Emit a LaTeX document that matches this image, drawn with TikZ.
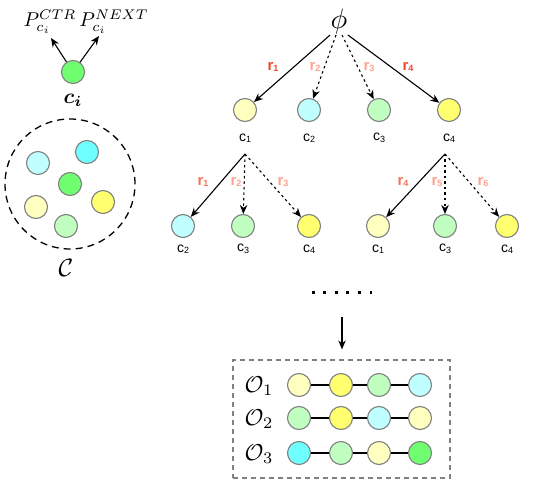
\documentclass[tikz,border=0pt]{standalone}
\usepackage{amsmath,bm}
\usepackage{fontspec}
\newfontfamily\lsans{Liberation Sans}
\usetikzlibrary{arrows.meta}
\definecolor{ly}{HTML}{FFFFC0}
\definecolor{yy}{HTML}{FFFF70}
\definecolor{lg}{HTML}{C0FFC0}
\definecolor{gg}{HTML}{70FF70}
\definecolor{lc}{HTML}{C0FFFF}
\definecolor{cc}{HTML}{70FFFF}
\definecolor{rdark}{HTML}{F2452A}
\definecolor{rmid}{HTML}{F8735A}
\definecolor{rlight}{HTML}{FFA090}
\definecolor{bord}{HTML}{808080}
\newcommand{\clab}[1]{c\raisebox{-1.5pt}{\fontsize{9}{9}\selectfont #1}}
\newcommand{\rlab}[1]{\textbf{r\raisebox{-1.5pt}{\fontsize{9}{9}\selectfont #1}}}
\begin{document}
\begin{tikzpicture}[x=1pt,y=-1pt,
  ball/.style={circle,draw=bord,line width=1.1pt,minimum size=23pt,inner sep=0pt},
  arr/.style={-{Stealth[length=9pt,width=7.5pt]},line width=1.1pt},
  dotarr/.style={arr,dash pattern=on 2.5pt off 3pt},
  clabel/.style={font=\lsans\fontsize{14}{14}\selectfont,inner sep=0pt},
  rlabel/.style={font=\lsans\fontsize{15}{15}\selectfont,inner sep=0pt},
  mlabel/.style={scale=#1,inner sep=0pt},
  link/.style={line width=1.2pt}]
\useasboundingbox (0,0) rectangle (537,494);

% ---- top-left: c_i
\node[ball,fill=gg] (ci) at (73,72) {};
\node[mlabel=2.1] (cilab) at (73,100) {$\bm{c_i}$};
\node[mlabel=2.0] (pctr) at (50,22) {$P_{c_i}^{CTR}$};
\node[mlabel=2.0] (pnext) at (114,22) {$P_{c_i}^{NEXT}$};
\coordinate (tl) at (51,38);
\coordinate (tr) at (99,36);
\draw[arr] (ci) -- (tl);
\draw[arr] (ci) -- (tr);

% ---- set C
\node[circle,draw,line width=1.3pt,dash pattern=on 7pt off 5pt,minimum size=130pt,inner sep=0pt] (cset) at (70,184) {};
\node[ball,fill=lc] (s1) at (38,163) {};
\node[ball,fill=cc] (s2) at (87,152) {};
\node[ball,fill=gg] (s3) at (70,184) {};
\node[ball,fill=ly] (s4) at (36,207) {};
\node[ball,fill=yy] (s5) at (103,202) {};
\node[ball,fill=lg] (s6) at (66,226) {};
\node[mlabel=2.5] (clab) at (66,268) {$\mathcal{C}$};

% ---- tree level 1
\node[mlabel=2.8] (phi) at (339,22) {$\phi$};
\node[ball,fill=ly] (a1) at (245,110) {};
\node[ball,fill=lc] (a2) at (309,110) {};
\node[ball,fill=lg] (a3) at (379,110) {};
\node[ball,fill=yy] (a4) at (449,110) {};
\node[clabel] (la1) at (245,138) {\clab{1}};
\node[clabel] (la2) at (309,138) {\clab{2}};
\node[clabel] (la3) at (379,138) {\clab{3}};
\node[clabel] (la4) at (449,138) {\clab{4}};
\draw[arr] (phi.south west) -- (a1);
\draw[dotarr] ([xshift=-3pt]phi.south) -- (a2);
\draw[dotarr] ([xshift=3pt]phi.south) -- (a3);
\draw[arr] (phi.south east) -- (a4);
\node[rlabel,text=rdark] (r1) at (273,67) {\rlab{1}};
\node[rlabel,text=rlight] (r2) at (315,67) {\rlab{2}};
\node[rlabel,text=rlight] (r3) at (369,67) {\rlab{3}};
\node[rlabel,text=rdark] (r4) at (408,67) {\rlab{4}};

% ---- tree level 2
\coordinate (b1) at (245,154);
\coordinate (b4) at (445,154);
\node[ball,fill=lc] (d1) at (183,226) {};
\node[ball,fill=lg] (d2) at (243,226) {};
\node[ball,fill=yy] (d3) at (309,226) {};
\node[ball,fill=ly] (d4) at (378,226) {};
\node[ball,fill=lg] (d5) at (445,226) {};
\node[ball,fill=yy] (d6) at (507,226) {};
\node[clabel] (ld1) at (183,249) {\clab{2}};
\node[clabel] (ld2) at (243,249) {\clab{3}};
\node[clabel] (ld3) at (309,249) {\clab{4}};
\node[clabel] (ld4) at (378,249) {\clab{1}};
\node[clabel] (ld5) at (445,249) {\clab{3}};
\node[clabel] (ld6) at (507,249) {\clab{4}};
\draw[arr] (b1) -- (d1);
\draw[dotarr] (b1) -- (d2);
\draw[dotarr] (b1) -- (d3);
\draw[arr] (b4) -- (d4);
\draw[dotarr] (b4) -- (d5);
\draw[dotarr] (b4) -- (d6);
\node[rlabel,text=rmid] (q1) at (203,182) {\rlab{1}};
\node[rlabel,text=rlight] (q2) at (236,182) {\rlab{2}};
\node[rlabel,text=rlight] (q3) at (283,182) {\rlab{3}};
\node[rlabel,text=rmid] (q4) at (403,182) {\rlab{4}};
\node[rlabel,text=rlight] (q5) at (437,182) {\rlab{5}};
\node[rlabel,text=rlight] (q6) at (483,182) {\rlab{6}};

% ---- dots and arrow
\coordinate (dl) at (311.5,292);
\coordinate (dr) at (372,292);
\draw[line width=3pt,dash pattern=on 3pt off 8.6pt] (dl) -- (dr);
\node[draw=bord,line width=1.2pt,dash pattern=on 5pt off 4pt,minimum width=217pt,minimum height=118pt,inner sep=0pt] (box) at (341.5,419) {};
\coordinate (as) at (342,317);
\draw[arr] (as) -- ([yshift=10pt]box.north -| as);

% ---- output sequences
\node[mlabel=2.3] (o1) at (259,386) {$\mathcal{O}_1$};
\node[mlabel=2.3] (o2) at (259,419) {$\mathcal{O}_2$};
\node[mlabel=2.3] (o3) at (259,454) {$\mathcal{O}_3$};
\node[ball,fill=ly] (p11) at (299,385) {};
\node[ball,fill=yy] (p12) at (341,385) {};
\node[ball,fill=lg] (p13) at (379,385) {};
\node[ball,fill=lc] (p14) at (420,385) {};
\node[ball,fill=lg] (p21) at (299,418) {};
\node[ball,fill=yy] (p22) at (341,418) {};
\node[ball,fill=lc] (p23) at (379,418) {};
\node[ball,fill=ly] (p24) at (420,418) {};
\node[ball,fill=cc] (p31) at (299,453) {};
\node[ball,fill=lg] (p32) at (341,453) {};
\node[ball,fill=ly] (p33) at (379,453) {};
\node[ball,fill=gg] (p34) at (420,453) {};
\draw[link] (p11) -- (p12) (p12) -- (p13) (p13) -- (p14);
\draw[link] (p21) -- (p22) (p22) -- (p23) (p23) -- (p24);
\draw[link] (p31) -- (p32) (p32) -- (p33) (p33) -- (p34);
\end{tikzpicture}
\end{document}
